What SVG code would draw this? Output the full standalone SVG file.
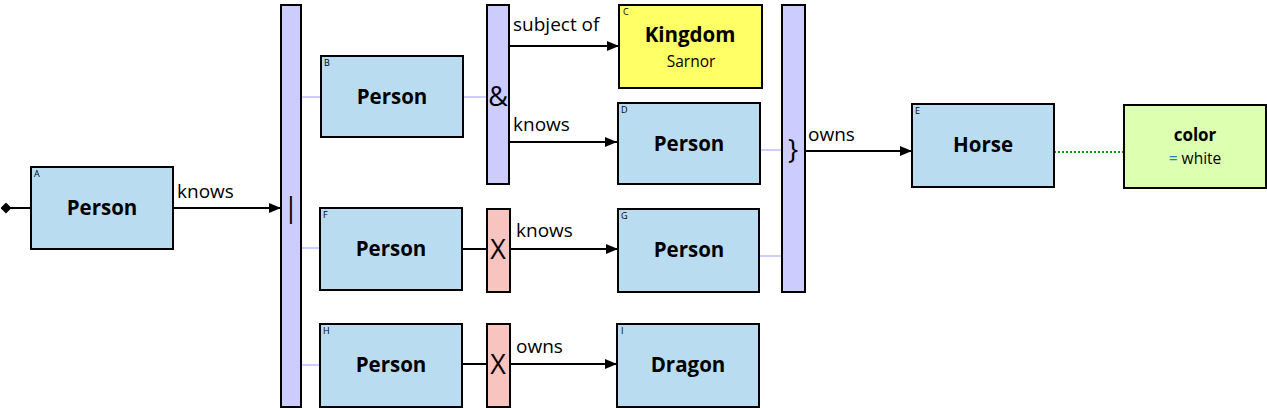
<svg xmlns="http://www.w3.org/2000/svg" width="1267" height="408" viewBox="0 0 1267 408">
<style>
.node{fill:#b9dcf0;stroke:#000;stroke-width:2}
.kingdom{fill:#ffff66;stroke:#000;stroke-width:2}
.attr{fill:#ddffb0;stroke:#000;stroke-width:2}
.bar{fill:#ccccff;stroke:#000;stroke-width:2}
.notbar{fill:#f8c4c0;stroke:#000;stroke-width:2}
.lbl{font-family:"Open Sans",sans-serif;font-weight:bold;font-size:20.5px;text-anchor:middle;fill:#000}
.sub{font-family:"Open Sans",sans-serif;font-size:15.5px;text-anchor:middle;fill:#000}
.id{font-family:"Open Sans",sans-serif;font-size:9px;fill:#000}
.el{font-family:"Open Sans",sans-serif;font-size:19px;fill:#000}
.sym{font-family:"Open Sans",sans-serif;font-size:27px;text-anchor:middle;fill:#000}
.edge{stroke:#000;stroke-width:2;fill:none}
.lav{stroke:#ccccff;stroke-width:2;fill:none}
</style>
<defs>
<marker id="arr" viewBox="0 0 12 10" refX="12" refY="5" markerWidth="12" markerHeight="10" markerUnits="userSpaceOnUse" orient="auto">
<path d="M0,0 L12,5 L0,10 z" fill="#000"/>
</marker>
<marker id="dia" viewBox="0 0 10 10" refX="5" refY="5" markerWidth="11" markerHeight="11" markerUnits="userSpaceOnUse" orient="auto">
<path d="M0,5 L5,0 L10,5 L5,10 z" fill="#000"/>
</marker>
</defs>
<g id="connectors">
<line class="edge" x1="6" y1="208" x2="31" y2="208" marker-start="url(#dia)"/>
<line class="edge" x1="173" y1="208" x2="281" y2="208" marker-end="url(#arr)"/>
<text class="el" x="177" y="198">knows</text>
<line class="lav" x1="301" y1="97" x2="321" y2="97"/>
<line class="lav" x1="463" y1="97" x2="487" y2="97"/>
<line class="lav" x1="301" y1="248" x2="320" y2="248"/>
<line class="lav" x1="301" y1="365" x2="320" y2="365"/>
<line class="edge" x1="509" y1="46" x2="619" y2="46" marker-end="url(#arr)"/>
<text class="el" x="513" y="31">subject of</text>
<line class="edge" x1="509" y1="142" x2="617" y2="142" marker-end="url(#arr)"/>
<text class="el" x="513" y="131">knows</text>
<line class="edge" x1="462" y1="249" x2="487" y2="249"/>
<line class="edge" x1="510" y1="249" x2="618" y2="249" marker-end="url(#arr)"/>
<text class="el" x="516" y="237">knows</text>
<line class="edge" x1="462" y1="364" x2="487" y2="364"/>
<line class="edge" x1="510" y1="364" x2="617" y2="364" marker-end="url(#arr)"/>
<text class="el" x="516" y="353">owns</text>
<line class="lav" x1="760" y1="150" x2="782" y2="150"/>
<line class="lav" x1="759" y1="256" x2="782" y2="256"/>
<line class="edge" x1="805" y1="151" x2="912" y2="151" marker-end="url(#arr)"/>
<text class="el" x="808" y="141">owns</text>
<line x1="1054" y1="152" x2="1124" y2="152" stroke="#00a000" stroke-width="2" stroke-dasharray="2,2"/>
</g>
<g id="bar-or">
<rect class="bar" x="281" y="5" width="20" height="402"/>
<text class="sym" x="291" y="217">|</text>
</g>
<g id="bar-and">
<rect class="bar" x="487" y="5" width="22" height="179"/>
<text class="sym" x="498" y="106">&amp;</text>
</g>
<g id="bar-close">
<rect class="bar" x="782" y="5" width="23" height="287"/>
<text class="sym" x="793" y="159">}</text>
</g>
<g id="not-1">
<rect class="notbar" x="487" y="209" width="23" height="83"/>
<text class="sym" x="498" y="259">X</text>
</g>
<g id="not-2">
<rect class="notbar" x="487" y="324" width="23" height="83"/>
<text class="sym" x="498" y="374">X</text>
</g>
<g id="node-A">
<rect class="node" x="31" y="167" width="142" height="82"/>
<text class="id" x="34" y="177">A</text>
<text class="lbl" x="102" y="215">Person</text>
</g>
<g id="node-B">
<rect class="node" x="321" y="56" width="142" height="81"/>
<text class="id" x="324" y="66">B</text>
<text class="lbl" x="392" y="104">Person</text>
</g>
<g id="node-C">
<rect class="kingdom" x="619" y="5" width="143" height="83"/>
<text class="id" x="623" y="15">C</text>
<text class="lbl" x="690" y="42">Kingdom</text>
<text class="sub" x="691" y="67">Sarnor</text>
</g>
<g id="node-D">
<rect class="node" x="618" y="103" width="142" height="81"/>
<text class="id" x="621" y="113">D</text>
<text class="lbl" x="689" y="151">Person</text>
</g>
<g id="node-E">
<rect class="node" x="912" y="104" width="142" height="83"/>
<text class="id" x="915" y="114">E</text>
<text class="lbl" x="983" y="152">Horse</text>
</g>
<g id="node-color">
<rect class="attr" x="1124" y="105" width="142" height="83"/>
<text class="lbl" x="1195" y="141" style="font-size:17px">color</text>
<text class="sub" x="1195" y="164"><tspan fill="#1f7fd0">=</tspan> white</text>
</g>
<g id="node-F">
<rect class="node" x="320" y="208" width="142" height="82"/>
<text class="id" x="323" y="218">F</text>
<text class="lbl" x="391" y="256">Person</text>
</g>
<g id="node-G">
<rect class="node" x="618" y="209" width="141" height="83"/>
<text class="id" x="621" y="219">G</text>
<text class="lbl" x="689" y="257">Person</text>
</g>
<g id="node-H">
<rect class="node" x="320" y="324" width="142" height="83"/>
<text class="id" x="323" y="334">H</text>
<text class="lbl" x="391" y="372">Person</text>
</g>
<g id="node-I">
<rect class="node" x="617" y="324" width="142" height="83"/>
<text class="id" x="621" y="334">I</text>
<text class="lbl" x="688" y="372">Dragon</text>
</g>
</svg>
